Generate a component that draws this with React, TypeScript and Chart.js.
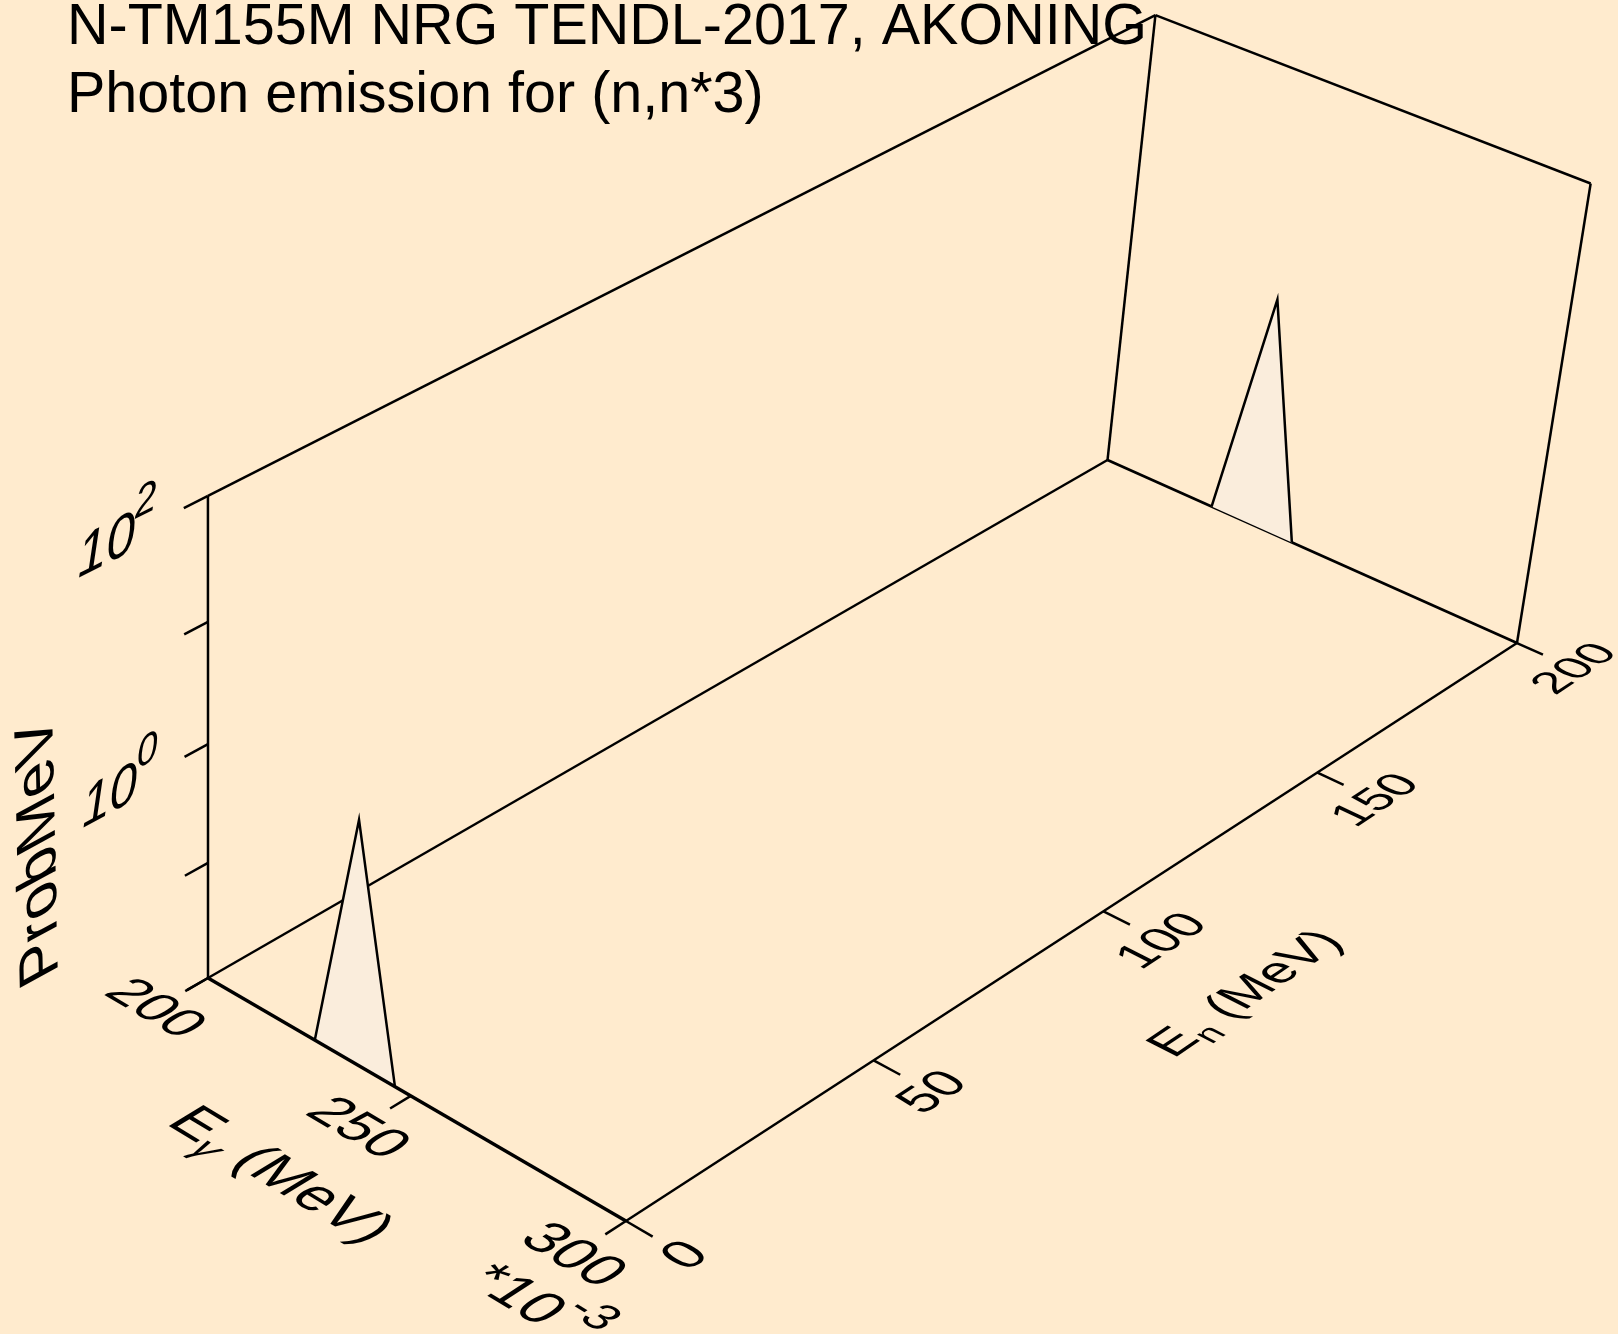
import { useEffect, useRef } from 'react';
import { Chart, registerables } from 'chart.js';

Chart.register(...registerables);

// ---------------- data ----------------
const TITLE_LINES = ['N-TM155M NRG TENDL-2017, AKONING', 'Photon emission for (n,n*3)'];

const EG_RANGE = [0.2, 0.3]; // photon energy, MeV
const EN_RANGE = [0, 200]; // incident neutron energy, MeV
const PROB_RANGE = [1e-2, 1e2]; // prob/MeV (log)

const INCIDENT_ENERGIES = [0, 200];
const GAMMA_E_AT_EN0 = [0.2267, 0.2364, 0.2462];
const PROB_AT_EN0 = [0.01, 1.14, 0.01];
const GAMMA_E_AT_EN200 = [0.2264, 0.2358, 0.2463];
const PROB_AT_EN200 = [0.01, 1.1, 0.01];

const EG_TICKS = [0.2, 0.25, 0.3];
const EG_TICK_LABELS = ['200', '250', '300'];
const EN_TICKS = [0, 50, 100, 150, 200];
const EN_TICK_LABELS = ['0', '50', '100', '150', '200'];
const PROB_TICKS = [0.01, 0.1, 1, 10, 100];
const PROB_LABEL_VALUES = [1, 100];
const PROB_LABEL_EXPONENTS = ['0', '2'];

// ---------------- style / view ----------------
const W = 1618;
const H = 1334;
const BG = 'rgb(255,235,206)';
const PEAK_FILL = 'rgb(250,237,220)';
const FAMILY = "'Liberation Sans', Arial, Helvetica, sans-serif";

// perspective view (homogeneous columns for unit box axes)
const CU = [381.9, 172.7, -0.0576];
const CV = [1061.2, -450.8, 0.146];
const CW = [-12.1, -510.8, -0.058];
const C0 = [208, 978, 1];

type P3 = [number, number, number];

function projN(u: number, v: number, w: number) {
  const X = C0[0] + u * CU[0] + v * CV[0] + w * CW[0];
  const Y = C0[1] + u * CU[1] + v * CV[1] + w * CW[1];
  const D = C0[2] + u * CU[2] + v * CV[2] + w * CW[2];
  return { x: X / D, y: Y / D, d: D };
}

const nu = (eg: number) => (eg - EG_RANGE[0]) / (EG_RANGE[1] - EG_RANGE[0]);
const nv = (en: number) => (en - EN_RANGE[0]) / (EN_RANGE[1] - EN_RANGE[0]);
const nw = (p: number) =>
  (Math.log10(p) - Math.log10(PROB_RANGE[0])) / (Math.log10(PROB_RANGE[1]) - Math.log10(PROB_RANGE[0]));

function lineDs(pts: P3[], width = 2.5) {
  return {
    data: pts.map((q) => {
      const r = projN(q[0], q[1], q[2]);
      return { x: r.x, y: r.y };
    }),
    borderColor: '#000',
    borderWidth: width,
    pointRadius: 0,
    pointHoverRadius: 0,
    fill: false,
    tension: 0,
    clip: false,
  } as any;
}

function peakDs(en: number, eg: number[], pr: number[]) {
  const ds = lineDs(
    eg.map((g, i) => [nu(g), nv(en), nw(pr[i])] as P3),
    2.5
  );
  ds.fill = 'shape';
  ds.backgroundColor = PEAK_FILL;
  return ds;
}

function buildDatasets() {
  const u0 = 0, u1 = 1, v0 = 0, v1 = 1, w0 = 0, w1 = 1;
  const back: any[] = [];
  back.push(lineDs([[u0, v0, w1], [u0, v1, w1]]));
  back.push(lineDs([[u0, v1, w1], [u1, v1, w1]]));
  back.push(lineDs([[u0, v1, w0], [u0, v1, w1]]));
  back.push(lineDs([[u1, v1, w0], [u1, v1, w1]]));
  back.push(lineDs([[u0, v0, w0], [u0, v1, w0]]));
  back.push(lineDs([[u0, v1, w0], [u1, v1, w0]], 2.8));
  back.push(peakDs(INCIDENT_ENERGIES[1], GAMMA_E_AT_EN200, PROB_AT_EN200));
  back.push(lineDs([[u0, v0, w0], [u0, v0, w1]]));
  PROB_TICKS.forEach((p) => back.push(lineDs([[u0, v0, nw(p)], [u0, -0.022, nw(p)]])));
  back.push(peakDs(INCIDENT_ENERGIES[0], GAMMA_E_AT_EN0, PROB_AT_EN0));
  back.push(lineDs([[u0, v0, w0], [u1, v0, w0]], 3.4));
  EG_TICKS.forEach((e) => back.push(lineDs([[nu(e), v0, w0], [nu(e), -0.02, w0]])));
  back.push(lineDs([[u1, v0, w0], [u1, v1, w0]]));
  EN_TICKS.forEach((e) => back.push(lineDs([[u1, nv(e), w0], [1.06, nv(e), w0]])));
  const n = back.length;
  back.forEach((ds, i) => (ds.order = n - i));
  return back;
}

type Seg = { text: string; kind?: 'main' | 'sup' | 'sub'; italic?: boolean };

function drawLabel(
  ctx: CanvasRenderingContext2D,
  a: P3,
  base: P3,
  up: P3,
  size: number,
  segs: Seg[],
  italicAll = false,
  smallScale = 0.68
) {
  const eps = 1e-3;
  const p0 = projN(a[0], a[1], a[2]);
  const pb = projN(a[0] + eps * base[0], a[1] + eps * base[1], a[2] + eps * base[2]);
  const pu = projN(a[0] + eps * up[0], a[1] + eps * up[1], a[2] + eps * up[2]);
  let bx = pb.x - p0.x, by = pb.y - p0.y;
  const bl = Math.hypot(bx, by);
  bx /= bl; by /= bl;
  let ux = pu.x - p0.x, uy = pu.y - p0.y;
  const ul = Math.hypot(ux, uy);
  ux /= ul; uy /= ul;
  const s = 1 / p0.d;
  ctx.save();
  ctx.transform(bx * s, by * s, -ux * s, -uy * s, p0.x, p0.y);
  ctx.fillStyle = '#000';
  ctx.textAlign = 'left';
  ctx.textBaseline = 'middle';
  const fonts = segs.map((sg) => {
    const fs = sg.kind && sg.kind !== 'main' ? size * smallScale : size;
    return `${sg.italic || italicAll ? 'italic ' : ''}${fs}px ${FAMILY}`;
  });
  const widths = segs.map((sg, i) => {
    ctx.font = fonts[i];
    return ctx.measureText(sg.text).width;
  });
  const total = widths.reduce((x, y) => x + y, 0);
  let x = -total / 2;
  segs.forEach((sg, i) => {
    ctx.font = fonts[i];
    const dy = sg.kind === 'sup' ? -0.45 * size : sg.kind === 'sub' ? 0.3 * size : 0;
    ctx.fillText(sg.text, x, dy);
    x += widths[i];
  });
  ctx.restore();
}

const bgPlugin = {
  id: 'bgFill',
  beforeDraw(chart: any) {
    const ctx = chart.ctx;
    ctx.save();
    ctx.fillStyle = BG;
    ctx.fillRect(0, 0, chart.width, chart.height);
    ctx.restore();
  },
};

const textPlugin = {
  id: 'text3d',
  afterDraw(chart: any) {
    const ctx: CanvasRenderingContext2D = chart.ctx;
    // title
    ctx.save();
    ctx.fillStyle = '#000';
    ctx.textAlign = 'left';
    ctx.textBaseline = 'alphabetic';
    ctx.font = `57.5px ${FAMILY}`;
    ctx.fillText(TITLE_LINES[0], 67, 43.5);
    ctx.fillText(TITLE_LINES[1], 67, 111.5);
    ctx.restore();

    // E gamma tick labels (lying in the floor plane)
    EG_TICKS.forEach((e, i) =>
      drawLabel(ctx, [nu(e), -0.052, 0], [1, 0, 0], [0, 1, 0], 54, [{ text: EG_TICK_LABELS[i] }])
    );
    drawLabel(ctx, [1.045, -0.108, 0], [1, 0, 0], [0, 1, 0], 54, [
      { text: '*10' },
      { text: '-3', kind: 'sup' },
    ], false, 0.8);
    drawLabel(ctx, [0.5, -0.125, 0], [1, 0, 0], [0, 1, 0], 56, [
      { text: 'E' },
      { text: 'γ', kind: 'sub', italic: true },
      { text: ' (MeV)' },
    ]);

    // En tick labels
    EN_TICKS.forEach((e, i) =>
      drawLabel(ctx, [1.135, nv(e), 0], [0, 1, 0], [-1, 0, 0], 50, [{ text: EN_TICK_LABELS[i] }])
    );
    drawLabel(ctx, [1.34, 0.49, 0], [0, 1, 0], [-1, 0, 0], 51, [
      { text: 'E' },
      { text: 'n', kind: 'sub' },
      { text: ' (MeV)' },
    ]);

    // probability labels (back-left wall plane)
    PROB_LABEL_VALUES.forEach((p, i) =>
      drawLabel(
        ctx,
        [0, -0.082, nw(p)],
        [0, 1, 0],
        [0, 0, 1],
        54,
        [{ text: '10' }, { text: PROB_LABEL_EXPONENTS[i], kind: 'sup' }],
        true,
        0.75
      )
    );
    drawLabel(ctx, [0, -0.155, 0.47], [0, 0, 1], [0, -1, 0], 59.5, [{ text: 'ProbMeV' }]);
  },
};

export default function App() {
  const ref = useRef<HTMLCanvasElement>(null);
  useEffect(() => {
    document.body.style.background = BG;
    const canvas = ref.current!;
    const chart = new Chart(canvas, {
      type: 'line',
      data: { datasets: buildDatasets() },
      options: {
        animation: false,
        responsive: false,
        events: [],
        layout: { padding: 0 },
        scales: {
          x: { type: 'linear', min: 0, max: W, display: false },
          y: { type: 'linear', min: 0, max: H, reverse: true, display: false },
        },
        plugins: {
          legend: { display: false },
          tooltip: { enabled: false },
          title: { display: false },
        },
      },
      plugins: [bgPlugin, textPlugin],
    } as any);
    return () => chart.destroy();
  }, []);
  return (
    <div style={{ position: 'absolute', left: 0, top: 0, width: W, height: H }}>
      <canvas ref={ref} width={W} height={H} style={{ display: 'block', width: W, height: H }} />
    </div>
  );
}
